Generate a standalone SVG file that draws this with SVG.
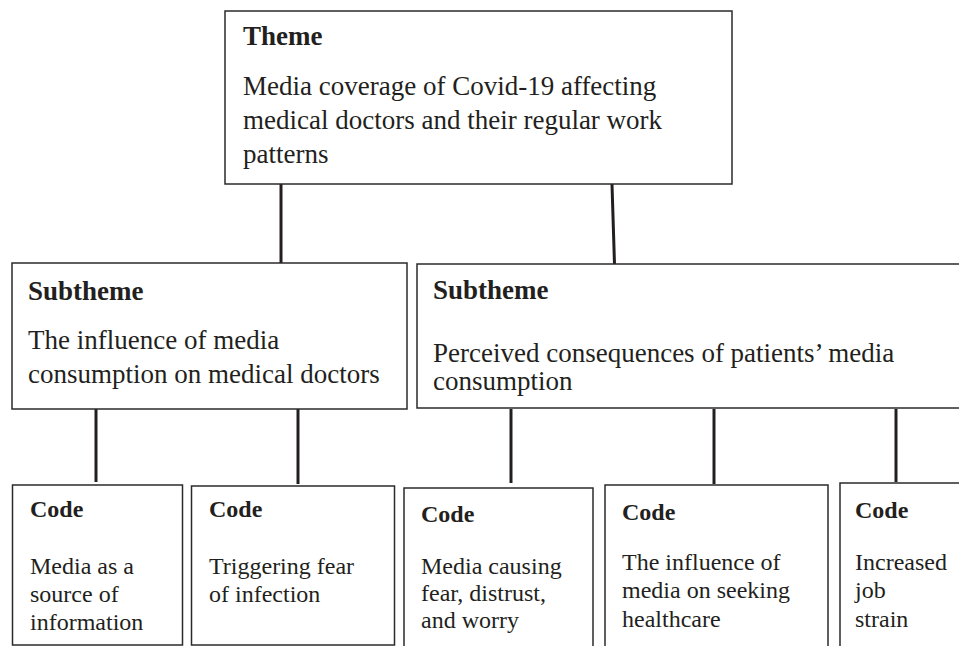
<svg xmlns="http://www.w3.org/2000/svg" width="959" height="646" viewBox="0 0 959 646">
<style>
.box{fill:#fff;stroke:#2b2b2b;stroke-width:1.5}
.t{font-family:"Liberation Serif","Times New Roman",serif;fill:#231f20}
.big{font-size:27px}
.sm{font-size:24px}
.b{font-weight:bold}
.c{stroke:#231f20;stroke-width:3;fill:none}
</style>
<rect width="959" height="646" fill="#fff"/>
<g id="connectors">
<line class="c" x1="281" y1="184" x2="281" y2="263"/>
<line class="c" x1="612" y1="184" x2="614.5" y2="264"/>
<line class="c" x1="96" y1="409" x2="96" y2="482"/>
<line class="c" x1="298" y1="409" x2="298" y2="484"/>
<line class="c" x1="511" y1="409" x2="511" y2="483"/>
<line class="c" x1="714" y1="409" x2="714" y2="484"/>
<line class="c" x1="896" y1="409" x2="896" y2="482"/>
</g>
<g id="theme">
<rect class="box" x="225" y="11" width="507" height="173"/>
<text class="t big b" x="243" y="45">Theme</text>
<text class="t big" x="243" y="95">Media coverage of Covid-19 affecting</text>
<text class="t big" x="243" y="129">medical doctors and their regular work</text>
<text class="t big" x="243" y="163">patterns</text>
</g>
<g id="subtheme1">
<rect class="box" x="12" y="263" width="395" height="146"/>
<text class="t big b" x="28" y="300">Subtheme</text>
<text class="t big" x="28" y="349">The influence of media</text>
<text class="t big" x="28" y="383">consumption on medical doctors</text>
</g>
<g id="subtheme2">
<rect class="box" x="417" y="264" width="570" height="144"/>
<text class="t big b" x="433" y="299">Subtheme</text>
<text class="t big" x="433" y="362">Perceived consequences of patients’ media</text>
<text class="t big" x="433" y="390">consumption</text>
</g>
<g id="code1">
<rect class="box" x="12.5" y="485" width="170" height="160"/>
<text class="t sm b" x="30" y="517">Code</text>
<text class="t sm" x="30" y="574">Media as a</text>
<text class="t sm" x="30" y="602">source of</text>
<text class="t sm" x="30" y="630">information</text>
</g>
<g id="code2">
<rect class="box" x="191.5" y="486" width="203" height="159"/>
<text class="t sm b" x="209" y="517">Code</text>
<text class="t sm" x="209" y="574">Triggering fear</text>
<text class="t sm" x="209" y="602">of infection</text>
</g>
<g id="code3">
<rect class="box" x="404" y="488" width="189" height="180"/>
<text class="t sm b" x="421" y="522">Code</text>
<text class="t sm" x="421" y="574">Media causing</text>
<text class="t sm" x="421" y="601">fear, distrust,</text>
<text class="t sm" x="421" y="628">and worry</text>
</g>
<g id="code4">
<rect class="box" x="605" y="485" width="223" height="180"/>
<text class="t sm b" x="622" y="520">Code</text>
<text class="t sm" x="622" y="570">The influence of</text>
<text class="t sm" x="622" y="598">media on seeking</text>
<text class="t sm" x="622" y="627">healthcare</text>
</g>
<g id="code5">
<rect class="box" x="840" y="483" width="140" height="180"/>
<text class="t sm b" x="855" y="518">Code</text>
<text class="t sm" x="855" y="570">Increased</text>
<text class="t sm" x="855" y="598">job</text>
<text class="t sm" x="855" y="627">strain</text>
</g>
</svg>
